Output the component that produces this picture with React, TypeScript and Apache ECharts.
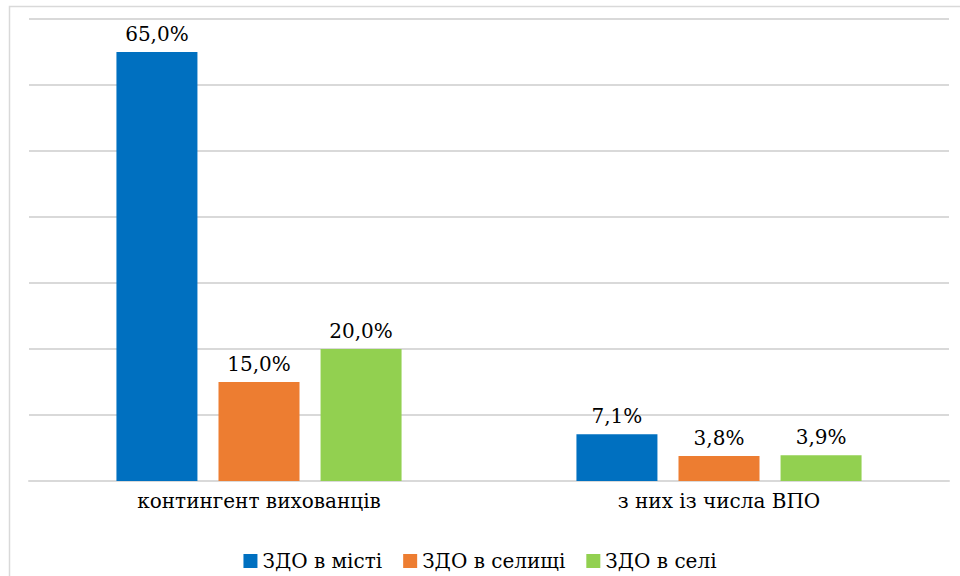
import React, { useEffect, useRef } from "react";
import * as echarts from "echarts";

const categories = ["контингент вихованців", "з них із числа ВПО"];
const seriesNames = ["ЗДО в місті", "ЗДО в селищі", "ЗДО в селі"];
const cityValues = [65.0, 7.1];
const townValues = [15.0, 3.8];
const villageValues = [20.0, 3.9];
const colors = ["#0070C0", "#ED7D31", "#92D050"];

export default function App() {
  const ref = useRef<HTMLDivElement>(null);
  useEffect(() => {
    document.body.style.margin = "0";
    const chart = echarts.init(ref.current!, null, { renderer: "svg" });
    const font = "DejaVu Serif";
    const data = [cityValues, townValues, villageValues];
    chart.setOption({
      animation: false,
      backgroundColor: "#ffffff",
      textStyle: { fontFamily: font },
      graphic: [
        {
          type: "rect",
          shape: { x: 9.5, y: 6.5, width: 1000, height: 1000 },
          style: { fill: "none", stroke: "#d9d9d9", lineWidth: 1.5 },
          silent: true,
        },
      ],
      grid: { left: 29, right: 11, top: 19, bottom: 95 },
      legend: {
        top: 546,
        left: "center",
        itemWidth: 14,
        itemHeight: 14,
        itemGap: 21,
        icon: "rect",
        textStyle: { fontFamily: font, fontSize: 20, color: "#000" },
        data: seriesNames,
      },
      xAxis: {
        type: "category",
        data: categories,
        axisLine: { lineStyle: { color: "#d9d9d9", width: 2 } },
        axisTick: { show: false },
        axisLabel: { fontFamily: font, fontSize: 20, color: "#000", margin: 10 },
      },
      yAxis: {
        type: "value",
        min: 0,
        max: 70,
        interval: 10,
        axisLabel: { show: false },
        axisLine: { show: false },
        axisTick: { show: false },
        splitLine: { lineStyle: { color: "#d9d9d9", width: 2 } },
      },
      series: seriesNames.map((name, i) => ({
        name,
        type: "bar",
        data: data[i],
        barWidth: 81,
        barGap: "26%",
        itemStyle: { color: colors[i] },
        label: {
          show: true,
          position: "top",
          distance: 8,
          fontFamily: font,
          fontSize: 20,
          color: "#000",
          formatter: (p: any) => p.value.toFixed(1).replace(".", ",") + "%",
        },
      })),
    });
    return () => chart.dispose();
  }, []);
  return <div ref={ref} style={{ width: 960, height: 576 }} />;
}
